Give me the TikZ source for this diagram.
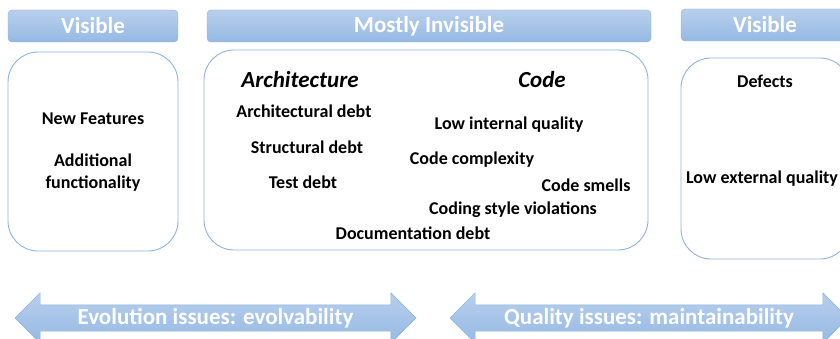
\documentclass[tikz,border=0pt]{standalone}
\usepackage{fontspec}
\setmainfont{Carlito}
\usepackage{tikz}
\usetikzlibrary{positioning, shapes.arrows}
\definecolor{lineblue}{RGB}{141,179,226}
\definecolor{headtop}{RGB}{184,207,236}
\definecolor{headbottom}{RGB}{149,185,228}

\begin{document}
\begin{tikzpicture}[x=1pt, y=-1pt]
    % Define styles
    \tikzstyle{header} = [rectangle, draw=lineblue, top color=headtop,
                          bottom color=headbottom, rounded corners=4pt,
                          minimum height=32pt, text=white,
                          font=\fontsize{23}{26}\selectfont\bfseries]
    \tikzstyle{panel} = [rectangle, draw=lineblue, line width=0.9pt,
                         rounded corners=30pt]
    \tikzstyle{item} = [font=\fontsize{18}{22}\selectfont\bfseries, align=center]
    \tikzstyle{topic} = [font=\fontsize{23}{26}\selectfont\bfseries\itshape]
    \tikzstyle{issue} = [double arrow, draw=lineblue, top color=headtop,
                         bottom color=headbottom, double arrow head extend=12pt,
                         minimum width=50pt, text height=16pt, text depth=4pt,
                         inner ysep=3pt, inner xsep=0pt, text=white,
                         font=\fontsize{23}{26}\selectfont\bfseries]

    \clip (0,0) rectangle (840,339);

    % Create headers and panels
    \node[header, minimum width=170pt] (visleft) at (93,26) {Visible};
    \node[header, minimum width=444pt] (invis) at (429,26) {Mostly Invisible};
    \node[header, minimum width=168pt] (visright) at (765,25) {Visible};

    \node[panel, minimum width=170pt, minimum height=199pt] (features) at (93,151.5) {};
    \node[panel, minimum width=444pt, minimum height=200pt] (debt) at (426,150) {};
    \node[panel, minimum width=169pt, minimum height=201pt] (defects) at (765.5,158.5) {};

    % Visible: evolution
    \node[item] (newfeat) at (93,119) {New Features};
    \node[item] (addfunc) at (93,173) {Additional\\functionality};

    % Mostly invisible
    \node[topic] (arch) at (300,80) {Architecture};
    \node[topic] (code) at (542,80) {Code};
    \node[item] (archdebt) at (304,111) {Architectural debt};
    \node[item] (structdebt) at (307,147) {Structural debt};
    \node[item] (testdebt) at (303,182) {Test debt};
    \node[item] (lowint) at (509,125) {Low internal quality};
    \node[item] (complex) at (472,160) {Code complexity};
    \node[item] (smells) at (586,185) {Code smells};
    \node[item] (style) at (513,210) {Coding style violations};
    \node[item] (docdebt) at (413,233) {Documentation debt};

    % Visible: quality
    \node[item] (defect) at (765,81) {Defects};
    \node[item] (lowext) at (762,179) {Low external quality};

    % Issue arrows
    \node[issue, minimum height=401pt] (evolution) at (215.5,318) {Evolution issues: evolvability};
    \node[issue, minimum height=398pt] (quality) at (649,318) {Quality issues: maintainability};
\end{tikzpicture}
\end{document}
